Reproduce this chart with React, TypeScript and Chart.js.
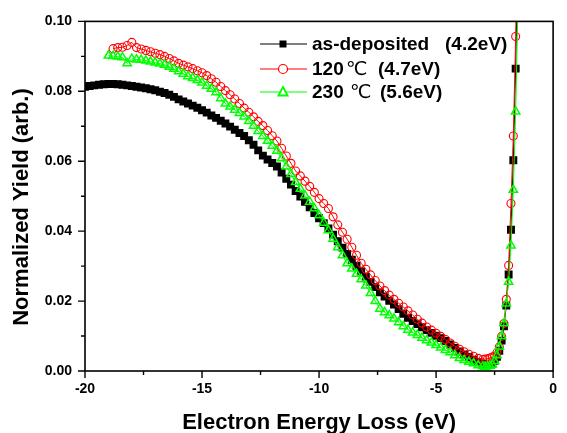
import React, { useEffect, useRef } from 'react';
import { Chart, registerables } from 'chart.js';

Chart.register(...registerables);

// Electron energy loss (eV)
const energy = [
  -20.0, -19.8, -19.6, -19.4, -19.2, -19.0, -18.8, -18.6, -18.4, -18.2,
  -18.0, -17.8, -17.6, -17.4, -17.2, -17.0, -16.8, -16.6, -16.4, -16.2,
  -16.0, -15.8, -15.6, -15.4, -15.2, -15.0, -14.8, -14.6, -14.4, -14.2,
  -14.0, -13.8, -13.6, -13.4, -13.2, -13.0, -12.8, -12.6, -12.4, -12.2,
  -12.0, -11.8, -11.6, -11.4, -11.2, -11.0, -10.8, -10.6, -10.4, -10.2,
  -10.0, -9.8, -9.6, -9.4, -9.2, -9.0, -8.8, -8.6, -8.4, -8.2,
  -8.0, -7.8, -7.6, -7.4, -7.2, -7.0, -6.8, -6.6, -6.4, -6.2,
  -6.0, -5.8, -5.6, -5.4, -5.2, -5.0, -4.8, -4.6, -4.4, -4.2,
  -4.0, -3.8, -3.6, -3.4, -3.2, -3.0,
  -2.9, -2.8, -2.7, -2.6, -2.5, -2.4, -2.3, -2.2, -2.1, -2.0,
  -1.9, -1.8, -1.7, -1.6, -1.5,
];

const asDeposited = [
  0.0813, 0.0815, 0.0817, 0.0819, 0.0820, 0.0821, 0.0821, 0.0820, 0.0819, 0.0817,
  0.0815, 0.0813, 0.0811, 0.0809, 0.0806, 0.0803, 0.0799, 0.0795, 0.0790, 0.0784,
  0.0777, 0.0771, 0.0765, 0.0759, 0.0753, 0.0746, 0.0739, 0.0731, 0.0724, 0.0716,
  0.0708, 0.0699, 0.0690, 0.0681, 0.0672, 0.0660, 0.0647, 0.0631, 0.0616, 0.0605,
  0.0595, 0.0585, 0.0568, 0.0550, 0.0533, 0.0515, 0.0499, 0.0484, 0.0468, 0.0452,
  0.0437, 0.0423, 0.0408, 0.0390, 0.0371, 0.0353, 0.0335, 0.0318, 0.0301, 0.0285,
  0.0270, 0.0255, 0.0240, 0.0225, 0.0213, 0.0201, 0.0190, 0.0177, 0.0164, 0.0152,
  0.0143, 0.0134, 0.0125, 0.0117, 0.0109, 0.0101, 0.0094, 0.0086, 0.0076, 0.0066,
  0.0056, 0.0047, 0.0040, 0.0032, 0.0025, 0.0020,
  0.0018, 0.0017, 0.0017, 0.0021, 0.0029, 0.0041, 0.0058, 0.0087, 0.0128, 0.0187,
  0.0276, 0.0404, 0.0603, 0.0865, 0.1200,
];

const annealed120 = [
  null, null, null, null, null, null, 0.0922, 0.0925, 0.0926, 0.0931,
  0.0940, 0.0925, 0.0921, 0.0917, 0.0913, 0.0909, 0.0905, 0.0900, 0.0894, 0.0887,
  0.0880, 0.0875, 0.0870, 0.0865, 0.0859, 0.0853, 0.0845, 0.0836, 0.0826, 0.0814,
  0.0802, 0.0790, 0.0778, 0.0765, 0.0752, 0.0740, 0.0727, 0.0714, 0.0702, 0.0688,
  0.0673, 0.0658, 0.0637, 0.0615, 0.0594, 0.0572, 0.0558, 0.0543, 0.0528, 0.0511,
  0.0493, 0.0479, 0.0465, 0.0441, 0.0418, 0.0397, 0.0377, 0.0354, 0.0331, 0.0308,
  0.0291, 0.0275, 0.0259, 0.0243, 0.0230, 0.0217, 0.0205, 0.0194, 0.0183, 0.0172,
  0.0160, 0.0148, 0.0137, 0.0126, 0.0117, 0.0108, 0.0099, 0.0090, 0.0080, 0.0071,
  0.0062, 0.0055, 0.0048, 0.0042, 0.0036, 0.0033,
  0.0034, 0.0035, 0.0037, 0.0040, 0.0043, 0.0052, 0.0069, 0.0099, 0.0136, 0.0205,
  0.0302, 0.0479, 0.0672, 0.0957, 0.1300,
];

const annealed230 = [
  null, null, null, null, null, 0.0902, 0.0901, 0.0899, 0.0897, 0.0880,
  0.0893, 0.0891, 0.0890, 0.0888, 0.0885, 0.0882, 0.0879, 0.0876, 0.0870, 0.0864,
  0.0857, 0.0850, 0.0843, 0.0838, 0.0832, 0.0825, 0.0816, 0.0807, 0.0797, 0.0780,
  0.0765, 0.0756, 0.0747, 0.0738, 0.0728, 0.0715, 0.0701, 0.0686, 0.0672, 0.0658,
  0.0644, 0.0630, 0.0608, 0.0585, 0.0563, 0.0540, 0.0521, 0.0502, 0.0484, 0.0465,
  0.0445, 0.0424, 0.0402, 0.0378, 0.0354, 0.0331, 0.0308, 0.0293, 0.0278, 0.0262,
  0.0244, 0.0223, 0.0200, 0.0178, 0.0168, 0.0159, 0.0150, 0.0139, 0.0128, 0.0118,
  0.0110, 0.0103, 0.0095, 0.0088, 0.0081, 0.0074, 0.0067, 0.0060, 0.0053, 0.0045,
  0.0037, 0.0031, 0.0026, 0.0022, 0.0016, 0.0013,
  0.0012, 0.0013, 0.0015, 0.0018, 0.0028, 0.0045, 0.0070, 0.0100, 0.0136, 0.0193,
  0.0255, 0.0359, 0.0518, 0.0742, 0.1050,
];

const xMajorTicks = [-20, -15, -10, -5, 0];
const xMinorTicks = [-17.5, -12.5, -7.5, -2.5];
const yMajorTicks = [0, 0.02, 0.04, 0.06, 0.08, 0.1];
const yMinorTicks = [0.01, 0.03, 0.05, 0.07, 0.09];

const seriesNames = ['as-deposited', '120', '230 '];
const seriesEnergies = ['(4.2eV)', '(4.7eV)', '(5.6eV)'];
const seriesColors = ['#000000', '#ff0000', '#00ff00'];
const xTitle = 'Electron Energy Loss (eV)';
const yTitle = 'Normalized Yield (arb.)';

const toPoints = (ys: (number | null)[]) =>
  energy
    .map((x, i) => ({ x, y: ys[i] }))
    .filter((p) => p.y !== null) as { x: number; y: number }[];

const BOLD = "'Liberation Sans', Arial, sans-serif";

const framePlugin = {
  id: 'originFrame',
  afterDraw(chart: any) {
    const { ctx, chartArea: a, scales } = chart;
    const xs = scales.x;
    const ys = scales.y;
    ctx.save();
    ctx.strokeStyle = '#000';
    ctx.lineWidth = 1.6;
    ctx.strokeRect(a.left, a.top, a.right - a.left, a.bottom - a.top);
    ctx.lineWidth = 1.4;
    ctx.beginPath();
    xMajorTicks.forEach((v) => {
      const px = xs.getPixelForValue(v);
      ctx.moveTo(px, a.bottom);
      ctx.lineTo(px, a.bottom + 7);
    });
    xMinorTicks.forEach((v) => {
      const px = xs.getPixelForValue(v);
      ctx.moveTo(px, a.bottom);
      ctx.lineTo(px, a.bottom + 4);
    });
    yMajorTicks.forEach((v) => {
      const py = ys.getPixelForValue(v);
      ctx.moveTo(a.left, py);
      ctx.lineTo(a.left - 7, py);
    });
    yMinorTicks.forEach((v) => {
      const py = ys.getPixelForValue(v);
      ctx.moveTo(a.left, py);
      ctx.lineTo(a.left - 4, py);
    });
    ctx.stroke();

    // axis titles
    ctx.fillStyle = '#000';
    ctx.font = `bold 22px ${BOLD}`;
    ctx.textAlign = 'center';
    ctx.textBaseline = 'middle';
    ctx.fillText(xTitle, (a.left + a.right) / 2, 423);
    ctx.save();
    ctx.translate(22, 207);
    ctx.rotate(-Math.PI / 2);
    ctx.fillText(yTitle, 0, 0);
    ctx.restore();

    // legend
    const rows = [44, 69, 92];
    const nameX = 312;
    const degX = [0, 346, 350];
    const energyX = [445, 378, 380];
    rows.forEach((ry, i) => {
      const col = seriesColors[i];
      ctx.strokeStyle = col;
      ctx.lineWidth = 1.2;
      ctx.beginPath();
      ctx.moveTo(260, ry);
      ctx.lineTo(307, ry);
      ctx.stroke();
      const mx = 283;
      if (i === 0) {
        ctx.fillStyle = col;
        ctx.fillRect(mx - 3.5, ry - 3.5, 7, 7);
      } else if (i === 1) {
        ctx.fillStyle = '#fff';
        ctx.beginPath();
        ctx.arc(mx, ry, 4.5, 0, Math.PI * 2);
        ctx.fill();
        ctx.stroke();
      } else {
        ctx.fillStyle = '#fff';
        ctx.beginPath();
        ctx.moveTo(mx, ry - 5);
        ctx.lineTo(mx + 4.6, ry + 3.5);
        ctx.lineTo(mx - 4.6, ry + 3.5);
        ctx.closePath();
        ctx.fill();
        ctx.lineWidth = 1.8;
        ctx.stroke();
      }
      ctx.fillStyle = '#000';
      ctx.textAlign = 'left';
      ctx.textBaseline = 'middle';
      ctx.font = `bold 19px ${BOLD}`;
      ctx.fillText(seriesNames[i], nameX, ry + 1);
      ctx.fillText(seriesEnergies[i], energyX[i], ry + 1);
      if (i > 0) {
        ctx.font = `19px 'DejaVu Sans', 'Noto Sans CJK SC', sans-serif`;
        ctx.fillText('\u2103', degX[i], ry + 1);
      }
    });
    ctx.restore();
  },
};

export default function App() {
  const ref = useRef<HTMLCanvasElement | null>(null);

  useEffect(() => {
    document.body.style.margin = '0';
    const canvas = ref.current;
    if (!canvas) return;
    const chart = new Chart(canvas, {
      type: 'line',
      data: {
        datasets: [
          {
            label: 'as-deposited (4.2eV)',
            data: toPoints(asDeposited),
            borderColor: seriesColors[0],
            backgroundColor: seriesColors[0],
            borderWidth: 1,
            pointStyle: 'rect',
            pointRadius: 5.6,
            pointBorderWidth: 0,
            pointBackgroundColor: seriesColors[0],
            order: 2,
          },
          {
            label: '120℃ (4.7eV)',
            data: toPoints(annealed120),
            borderColor: seriesColors[1],
            backgroundColor: 'rgba(0,0,0,0)',
            borderWidth: 1,
            pointStyle: 'circle',
            pointRadius: 4,
            pointBorderWidth: 1.1,
            pointBorderColor: seriesColors[1],
            pointBackgroundColor: 'rgba(0,0,0,0)',
            order: 1,
          },
          {
            label: '230℃ (5.6eV)',
            data: toPoints(annealed230),
            borderColor: seriesColors[2],
            backgroundColor: 'rgba(0,0,0,0)',
            borderWidth: 1,
            pointStyle: 'triangle',
            pointRadius: 4.8,
            pointBorderWidth: 1.5,
            pointBorderColor: seriesColors[2],
            pointBackgroundColor: 'rgba(0,0,0,0)',
            order: 0,
          },
        ],
      },
      options: {
        responsive: false,
        animation: false,
        layout: { padding: { top: 19, right: 5, left: 0, bottom: 0 } },
        plugins: {
          legend: { display: false },
          tooltip: { enabled: false },
          title: { display: false },
        },
        scales: {
          x: {
            type: 'linear',
            min: -20,
            max: 0,
            afterFit: (s: any) => {
              s.height = 62;
            },
            grid: { display: false, drawTicks: false },
            border: { display: false },
            ticks: {
              stepSize: 5,
              padding: 10,
              color: '#000',
              font: { family: BOLD, size: 14, weight: 'bold' },
              maxRotation: 0,
              callback: (v: any) => String(v),
            },
          },
          y: {
            type: 'linear',
            min: 0,
            max: 0.1,
            afterFit: (s: any) => {
              s.width = 85;
            },
            grid: { display: false, drawTicks: false },
            border: { display: false },
            ticks: {
              stepSize: 0.02,
              padding: 13,
              color: '#000',
              font: { family: BOLD, size: 14, weight: 'bold' },
              callback: (v: any) => Number(v).toFixed(2),
            },
          },
        },
      },
      plugins: [framePlugin],
    });
    return () => chart.destroy();
  }, []);

  return (
    <div style={{ position: 'absolute', left: 0, top: 0, width: 567, height: 433, background: '#fff' }}>
      <canvas ref={ref} width={567} height={433} style={{ display: 'block' }} />
    </div>
  );
}
